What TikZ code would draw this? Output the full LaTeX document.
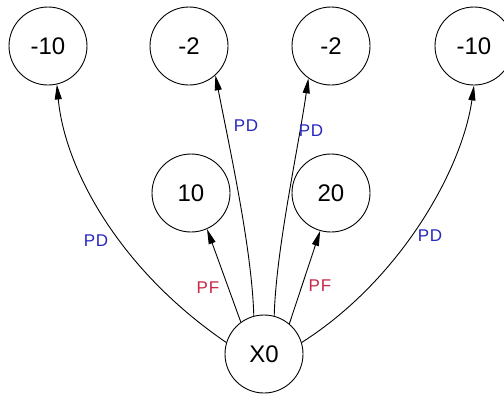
\documentclass[tikz,border=0pt]{standalone}
\usepackage{fontspec}
\setmainfont{Liberation Sans}
\newfontfamily\labfont[LetterSpace=5]{Liberation Sans}
\usetikzlibrary{arrows.meta}
\definecolor{pdblue}{RGB}{40,40,190}
\definecolor{pfred}{RGB}{200,40,70}
\tikzset{
  state/.style={circle,draw,line width=0.9pt,minimum size=78pt,inner sep=0pt,font=\fontsize{24}{24}\selectfont},
  edge/.style={line width=0.9pt,-{Triangle[length=15pt,width=7pt]}},
  pd/.style={text=pdblue,font=\labfont\fontsize{17}{17}\selectfont},
  pf/.style={text=pfred,font=\labfont\fontsize{17}{17}\selectfont}
}
\begin{document}
\begin{tikzpicture}[x=1pt,y=-1pt]
\clip (0,0) rectangle (504,394);
\fill[white] (0,0) rectangle (504,394);
\node[state] (a) at (48,46) {-10};
\node[state] (b) at (189,46) {-2};
\node[state] (c) at (331,46) {-2};
\node[state] (d) at (474,46) {-10};
\node[state] (e) at (191,193) {10};
\node[state] (f) at (331,193) {20};
\node[state] (x) at (264,354) {X0};
\draw[edge] (x.163) .. controls (120,270) and (65,170) .. (a.283);
\draw[edge] (x.105) .. controls (252,250) and (230,150) .. (b.312);
\draw[edge] (x.75) .. controls (276,250) and (298,150) .. (c.235);
\draw[edge] (x.17) .. controls (400,280) and (462,170) .. (d.270);
\draw[edge] (x.126) -- (e.294);
\draw[edge] (x.50) -- (f.254);
\node[pd] (l1) at (96,241) {PD};
\node[pd] (l2) at (246,126) {PD};
\node[pd] (l3) at (311,131) {PD};
\node[pd] (l4) at (430,236) {PD};
\node[pf] (l5) at (208,288) {PF};
\node[pf] (l6) at (320,286) {PF};
\end{tikzpicture}
\end{document}
